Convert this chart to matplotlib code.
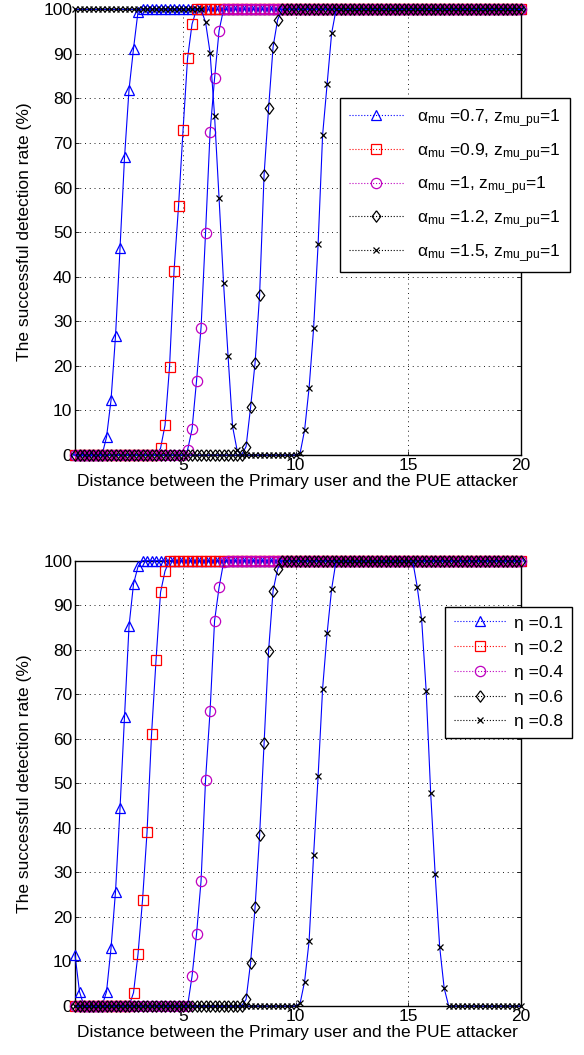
import numpy as np
import matplotlib.pyplot as plt
from matplotlib.lines import Line2D

plt.rcParams['font.family'] = ['Liberation Sans', 'DejaVu Sans']
plt.rcParams['mathtext.fontset'] = 'custom'
plt.rcParams['mathtext.rm'] = 'Liberation Sans'
plt.rcParams['mathtext.it'] = 'Liberation Sans:italic'

# distance grid (0.2 ... 20)
dist = np.arange(1, 101) * 0.2

# top panel: different alpha_mu, z_mu_pu = 1
alpha_labels = ['α$_{\\mathrm{mu}}$ =0.7, z$_{\\mathrm{mu\\_pu}}$=1',
                'α$_{\\mathrm{mu}}$ =0.9, z$_{\\mathrm{mu\\_pu}}$=1',
                'α$_{\\mathrm{mu}}$ =1, z$_{\\mathrm{mu\\_pu}}$=1',
                'α$_{\\mathrm{mu}}$ =1.2, z$_{\\mathrm{mu\\_pu}}$=1',
                'α$_{\\mathrm{mu}}$ =1.5, z$_{\\mathrm{mu\\_pu}}$=1']
rate_a07 = [0]*7 + [4, 12.3, 26.7, 46.4, 66.8, 82, 91.2, 99.5] + [100]*85
rate_a09 = [0]*19 + [1.5, 6.7, 19.8, 41.3, 55.9, 72.9, 89.0, 96.7] + [100]*73
rate_a10 = [0]*25 + [1.1, 5.8, 16.7, 28.6, 49.9, 72.4, 84.5, 95.2] + [100]*67
rate_a12 = [0]*38 + [1.9, 10.7, 20.7, 35.9, 62.9, 77.8, 91.6, 97.6] + [100]*54
rate_a15 = ([100]*29 + [97.1, 90.3, 76.1, 57.6, 38.5, 22.2, 6.4, 1.1] + [0]*13
            + [0.4, 5.6, 15.1, 28.4, 47.3, 71.8, 83.2, 94.6] + [100]*42)

# bottom panel: different eta
eta_labels = ['η =0.1', 'η =0.2', 'η =0.4', 'η =0.6', 'η =0.8']
rate_e01 = [11.5, 3.2] + [0]*5 + [3.2, 13.0, 25.7, 44.4, 65.0, 85.3, 94.8, 98.7] + [100]*85
rate_e02 = [0]*13 + [3.0, 11.7, 23.8, 39.0, 61.0, 77.7, 92.9, 97.7] + [100]*79
rate_e04 = [0]*25 + [0, 6.7, 16.2, 28.1, 50.8, 66.2, 86.5, 94.0, 99.6] + [100]*66
rate_e06 = [0]*38 + [1.5, 9.7, 22.2, 38.3, 59.0, 79.8, 93.3, 98.1] + [100]*54
rate_e08 = ([0]*50 + [0.6, 5.5, 14.6, 33.9, 51.6, 71.3, 83.7, 93.6] + [100]*18
            + [94.2, 86.8, 70.8, 47.9, 29.6, 13.3, 4.0] + [0]*17)

diamond = [(0, 1), (0.75, 0), (0, -1), (-0.75, 0), (0, 1)]
styles = [('b', '^', 7.6), ('r', 's', 6.6), ('m', 'o', 7.4),
          ('k', diamond, 8.2), ('k', 'x', 5.0)]

W, H = 584, 1055
fig = plt.figure(figsize=(W/100, H/100), dpi=100)
ax1 = fig.add_axes([75/W, 1-455/H, 445.7/W, 445.7/H])
ax2 = fig.add_axes([75/W, 1-1006/H, 445.7/W, 445.3/H])


def draw(ax, series, labels, leg_pos, leg_spacing, hlen, hpad):
    for y, (c, m, ms) in zip(series, styles):
        ax.plot(dist, y, '-', color='b', lw=0.8, clip_on=False, zorder=3)
        ax.plot(dist, y, ls='none', marker=m, ms=ms, mec=c, mfc='none',
                mew=0.9, clip_on=False, zorder=3)
    ax.set_xlim(0.2, 20)
    ax.set_ylim(0, 100)
    ax.set_xticks([5, 10, 15, 20])
    ax.set_yticks(np.arange(0, 101, 10))
    ax.tick_params(direction='in', top=True, right=True, length=3,
                   width=0.6, labelsize=12.5, pad=2)
    ax.grid(True, color='k', lw=0.6, ls=(0, (1.2, 4.5)))
    for s in ax.spines.values():
        s.set_linewidth(1.0)
    ax.set_xlabel('Distance between the Primary user and the PUE attacker',
                  fontsize=12.5, labelpad=1)
    ax.set_ylabel('The successful detection rate (%)', fontsize=12.5, labelpad=8)
    handles = [Line2D([], [], color=c, ls=':', lw=0.8, marker=m, ms=ms,
                      mec=c, mfc='none', mew=0.9) for c, m, ms in styles]
    leg = ax.legend(handles, labels, loc='upper left',
                    bbox_to_anchor=(leg_pos[0]/W, 1-leg_pos[1]/H),
                    bbox_transform=fig.transFigure, borderaxespad=0,
                    fancybox=False, edgecolor='k', framealpha=1,
                    fontsize=12.5, handlelength=hlen, handletextpad=hpad,
                    labelspacing=leg_spacing, borderpad=0.5)
    leg.get_frame().set_linewidth(1.0)


draw(ax1, [rate_a07, rate_a09, rate_a10, rate_a12, rate_a15], alpha_labels,
     (340, 98.3), 0.68, 3.2, 0.75)
draw(ax2, [rate_e01, rate_e02, rate_e04, rate_e06, rate_e08], eta_labels,
     (445, 606.7), 0.55, 3.0, 0.5)

fig.savefig('out.png', dpi=100)
